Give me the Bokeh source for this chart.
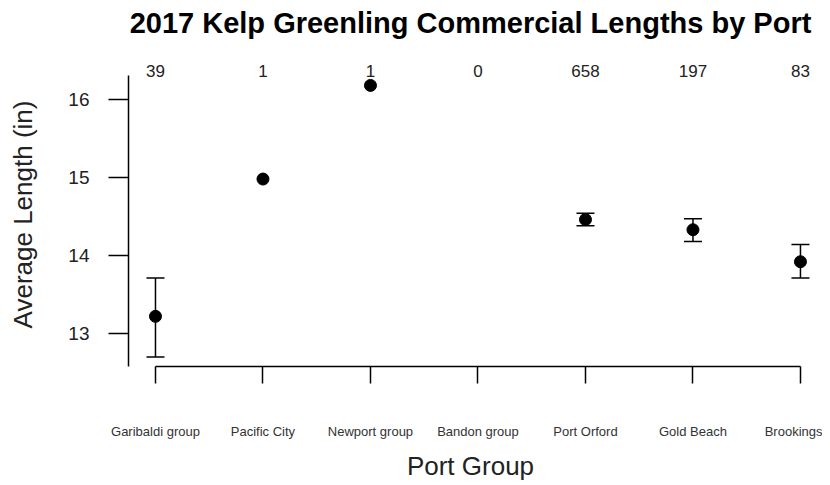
import math
from bokeh.plotting import figure
from bokeh.models import ColumnDataSource, FixedTicker, Whisker, TeeHead, Range1d, LabelSet, Title
from bokeh.core.properties import value
from bokeh.embed import file_html
from bokeh.resources import INLINE

ports = ["Garibaldi group", "Pacific City", "Newport group", "Bandon group",
         "Port Orford", "Gold Beach", "Brookings"]
counts = [39, 1, 1, 0, 658, 197, 83]
mean_len = [13.22, 14.98, 16.18, float("nan"), 14.46, 14.33, 13.92]
upper_len = [13.71, float("nan"), float("nan"), float("nan"), 14.54, 14.47, 14.14]
lower_len = [12.70, float("nan"), float("nan"), float("nan"), 14.38, 14.18, 13.71]
y_ticks = [13, 14, 15, 16]
title_text = "2017 Kelp Greenling Commercial Lengths by Port"

FONT = "Liberation Sans"
xs = list(range(1, len(ports) + 1))

p = figure(width=822, height=484, output_backend="svg", toolbar_location=None,
           x_range=Range1d(0.749, 7.112), y_range=Range1d(12.577, 16.474),
           min_border_left=128, min_border_right=10, min_border_top=62,
           min_border_bottom=118, title=None)
p.outline_line_color = None
p.xgrid.grid_line_color = None
p.ygrid.grid_line_color = None
p.background_fill_color = "white"

# spacer between plot frame and title (nearest the frame)
p.add_layout(Title(text=" ", text_font=FONT, text_font_size="20px", standoff=0), "above")
# main title
p.add_layout(Title(text=title_text, text_font=FONT, text_font_size="29px",
                   text_font_style="bold", align="center", text_color="black",
                   standoff=0), "above")

# points
pts = [(x, m) for x, m in zip(xs, mean_len) if not math.isnan(m)]
src = ColumnDataSource(dict(x=[a for a, _ in pts], y=[b for _, b in pts]))
p.scatter("x", "y", source=src, size=12, color="black")

# error bars
eb = [(x, u, l) for x, u, l in zip(xs, upper_len, lower_len) if not math.isnan(u)]
esrc = ColumnDataSource(dict(x=[a for a, _, _ in eb], upper=[b for _, b, _ in eb],
                             lower=[c for _, _, c in eb]))
w = Whisker(source=esrc, base="x", upper="upper", lower="lower", dimension="height",
            line_color="black", line_width=1.5,
            upper_head=TeeHead(size=18, line_color="black", line_width=1.5),
            lower_head=TeeHead(size=18, line_color="black", line_width=1.5))
p.add_layout(w)

# counts on top
csrc = ColumnDataSource(dict(x=xs, y=[16.37] * len(xs), t=[str(c) for c in counts]))
labels = LabelSet(source=csrc, x="x", y="y", text="t", text_align="center",
                  text_baseline="middle", text_font=value(FONT), text_font_size="17px",
                  text_color="#222222")
p.add_layout(labels)

# x axis
xa = p.xaxis[0]
xa.ticker = FixedTicker(ticks=xs)
xa.major_label_overrides = {x: name for x, name in zip(xs, ports)}
xa.bounds = (1, 7)
xa.major_tick_out = 17
xa.major_tick_in = 0
xa.minor_tick_line_color = None
xa.axis_line_width = 1.5
xa.major_tick_line_width = 1.5
xa.major_label_standoff = 40
xa.major_label_text_font = FONT
xa.major_label_text_font_size = "13px"
xa.major_label_text_color = "#333333"
xa.axis_label = "Port Group"
xa.axis_label_text_font = FONT
xa.axis_label_text_font_size = "26px"
xa.axis_label_text_font_style = "normal"
xa.axis_label_text_color = "#222222"
xa.axis_label_standoff = 9

# y axis
ya = p.yaxis[0]
ya.ticker = FixedTicker(ticks=y_ticks)
ya.bounds = (12.56, 16.31)
ya.major_tick_out = 20
ya.major_tick_in = 0
ya.minor_tick_line_color = None
ya.axis_line_width = 1.5
ya.major_tick_line_width = 1.5
ya.major_label_standoff = 19
ya.major_label_text_font = FONT
ya.major_label_text_font_size = "19px"
ya.major_label_text_color = "#222222"
ya.axis_label = "Average Length (in)"
ya.axis_label_text_font = FONT
ya.axis_label_text_font_size = "26px"
ya.axis_label_text_font_style = "normal"
ya.axis_label_text_color = "#222222"
ya.axis_label_standoff = 27

open("out.html", "w").write(file_html(p, INLINE))
